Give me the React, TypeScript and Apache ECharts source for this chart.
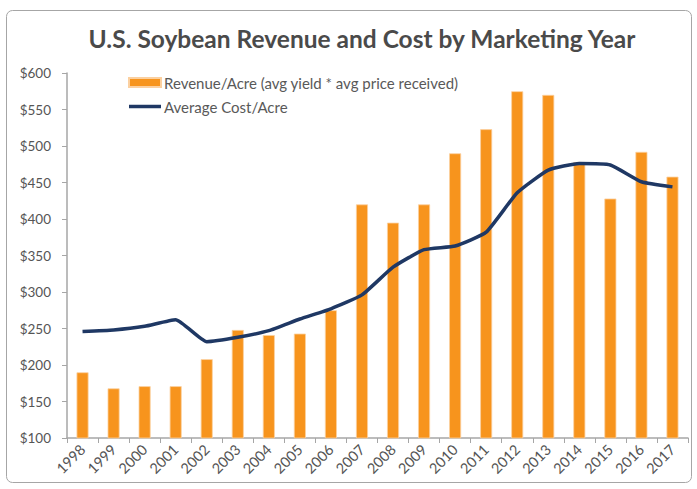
import React, { useEffect, useRef } from "react";
import * as echarts from "echarts";

const years = ["1998","1999","2000","2001","2002","2003","2004","2005","2006","2007","2008","2009","2010","2011","2012","2013","2014","2015","2016","2017"];
const revenuePerAcre = [190, 168, 171, 171, 208, 248, 241, 243, 275, 420, 395, 420, 490, 523, 575, 570, 478, 428, 492, 458];
const costPerAcre = [246, 248, 253, 262, 232, 238, 247, 263, 277, 296, 334, 358, 363, 382, 436, 467, 476, 474, 451, 444];
const yTicksMin = 100;
const yTicksMax = 600;
const yTickStep = 50;

const FONT = "Lato, 'Open Sans', sans-serif";

export default function App() {
  const ref = useRef<HTMLDivElement>(null);
  useEffect(() => {
    if (!ref.current) return;
    const chart = echarts.init(ref.current, undefined, { renderer: "svg" });
    chart.setOption({
      animation: false,
      backgroundColor: "#ffffff",
      textStyle: { fontFamily: FONT },
      graphic: [
        {
          type: "rect",
          shape: { x: 6.5, y: 10.5, width: 685, height: 472, r: 6 },
          style: { fill: "none", stroke: "#a6a6a6", lineWidth: 1 },
          silent: true,
          z: -10,
        },
      ],
      title: {
        text: "U.S. Soybean Revenue and Cost by Marketing Year",
        left: 357,
        textAlign: "center",
        top: 21,
        textStyle: { fontFamily: FONT, fontSize: 24.5, fontWeight: "bold", color: "#4a4a4a" },
      },
      legend: {
        orient: "vertical",
        left: 128,
        top: 75,
        padding: 0,
        itemWidth: 32,
        itemHeight: 9,
        itemGap: 9,
        textStyle: { fontFamily: FONT, fontSize: 15, color: "#595959", padding: [0, 0, 0, -2] },
        data: [
          { name: "Revenue/Acre (avg yield * avg price received)", icon: "rect" },
          { name: "Average Cost/Acre", icon: "path://M0,0H32V3.5H0Z" },
        ],
      },
      grid: { left: 67, right: 9, top: 73, bottom: 51, containLabel: false },
      xAxis: {
        type: "category",
        data: years,
        boundaryGap: true,
        axisLine: { lineStyle: { color: "#a6a6a6", width: 1.5 } },
        axisTick: { show: true, alignWithLabel: false, length: 5, lineStyle: { color: "#a6a6a6" } },
        axisLabel: { rotate: 45, fontFamily: FONT, fontSize: 14.5, color: "#555555", margin: 9, interval: 0 },
      },
      yAxis: {
        type: "value",
        min: yTicksMin,
        max: yTicksMax,
        interval: yTickStep,
        axisLine: { show: true, lineStyle: { color: "#a6a6a6", width: 1.5 } },
        axisTick: { show: true, length: 5, lineStyle: { color: "#a6a6a6" } },
        splitLine: { show: false },
        axisLabel: {
          fontFamily: FONT,
          fontSize: 13.5,
          color: "#555555",
          margin: 16,
          formatter: (v: number) => "$" + v,
        },
      },
      series: [
        {
          name: "Revenue/Acre (avg yield * avg price received)",
          type: "bar",
          data: revenuePerAcre,
          barWidth: 12,
          itemStyle: { color: "#F7941D", borderColor: "#FBD0A0", borderWidth: 0.8 },
        },
        {
          name: "Average Cost/Acre",
          type: "line",
          data: costPerAcre,
          symbol: "none",
          smooth: 0.15,
          lineStyle: { color: "#1F3864", width: 3.5 },
          itemStyle: { color: "#1F3864" },
        },
      ],
    });
    return () => chart.dispose();
  }, []);
  return <div ref={ref} style={{ width: 697, height: 489, position: "absolute", left: 0, top: 0 }} />;
}
